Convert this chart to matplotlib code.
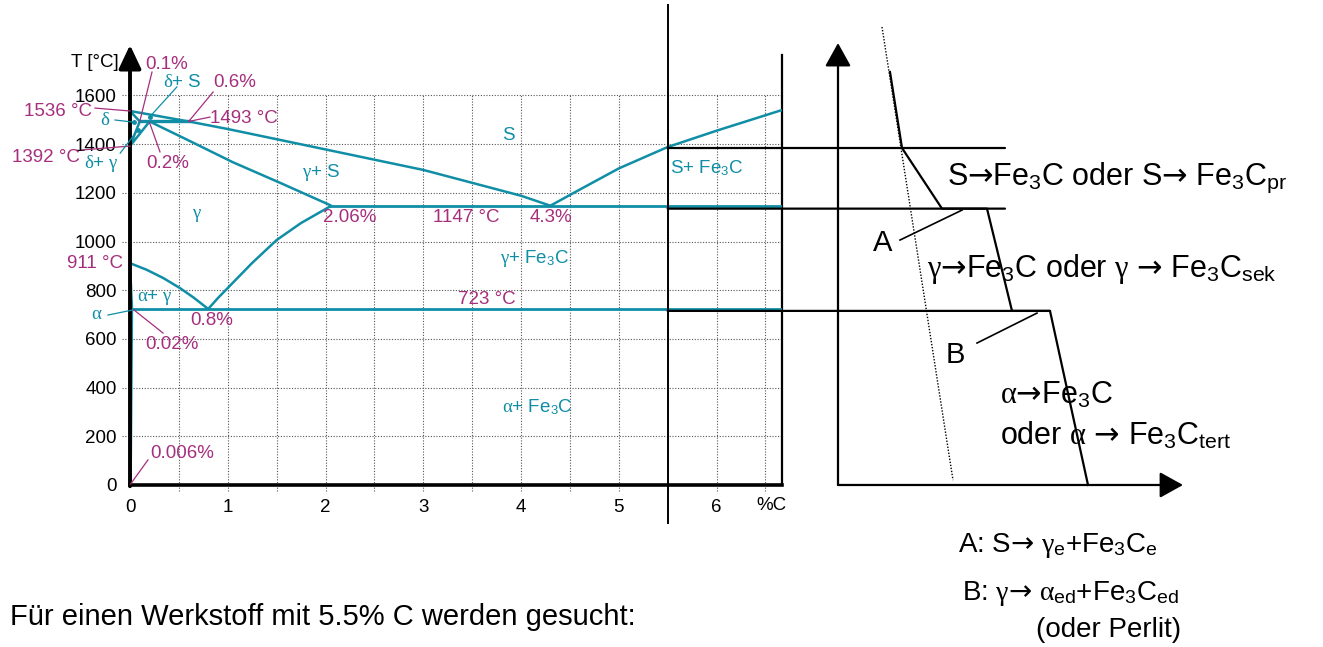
import matplotlib
matplotlib.use("Agg")
import matplotlib.pyplot as plt
from matplotlib.patches import ConnectionPatch

plt.rcParams["font.family"] = ["Liberation Sans", "DejaVu Sans"]
plt.rcParams["mathtext.fontset"] = "custom"
plt.rcParams["mathtext.rm"] = "Liberation Sans"
plt.rcParams["mathtext.it"] = "Liberation Serif"
plt.rcParams["mathtext.bf"] = "Liberation Sans:bold"
plt.rcParams["mathtext.sf"] = "DejaVu Sans"

TEAL = "#0f8ea6"
MAG = "#a62f7d"
ARR = r"$\mathsf{→}$"

# ---- Fe-Fe3C phase boundaries (%C, °C) ----
liq_left_c = [0.0, 0.6, 1.0, 1.74, 2.5, 3.0, 3.5, 4.0, 4.3]
liq_left_t = [1536, 1493, 1462, 1400, 1336, 1294, 1241, 1188, 1147]
liq_right_c = [4.3, 4.6, 5.0, 5.5, 6.0, 6.67]
liq_right_t = [1147, 1213, 1300, 1388, 1455, 1540]
sol_gamma_c = [0.2, 0.6, 1.05, 1.53, 2.06]
sol_gamma_t = [1493, 1415, 1326, 1242, 1147]
sol_delta_c = [0.0, 0.1]
sol_delta_t = [1536, 1493]
delta_gamma_c = [0.1, 0.0, 0.2]
delta_gamma_t = [1493, 1392, 1493]
peritectic_c = [0.1, 0.6]
peritectic_t = [1493, 1493]
a3_c = [0.0, 0.17, 0.34, 0.51, 0.65, 0.8]
a3_t = [911, 884, 850, 809, 770, 723]
acm_c = [0.8, 0.9, 1.0, 1.25, 1.5, 1.75, 2.06]
acm_t = [723, 768, 809, 912, 1006, 1076, 1147]
gp_c = [0.0, 0.02]
gp_t = [911, 723]
pq_c = [0.02, 0.006]
pq_t = [723, 0]
eutectic_c = [2.06, 6.67]
eutectic_t = [1147, 1147]
eutectoid_c = [0.02, 6.67]
eutectoid_t = [723, 723]

x_ticks = [0, 1, 2, 3, 4, 5, 6]
y_ticks = [0, 200, 400, 600, 800, 1000, 1200, 1400, 1600]
alloy_c = 5.5

# ---- cooling curve for the 5.5 % C alloy (time, °C) ----
cool_time = [5.2, 6.4, 10.4, 14.9, 17.4, 21.2, 25.0]
cool_temp = [1696, 1384, 1135, 1135, 715, 715, 0]
guide_temp = [1384, 1135, 715]
guide_end = [16.7, 16.7, 21.2]
ref_time = [4.4, 11.5]
ref_temp = [1881, 20]

fig = plt.figure(figsize=(13.23, 6.47), dpi=100)
ax = fig.add_axes([130 / 1323, 0.2504, 652 / 1323, 0.6646])
ax.set_xlim(0, 6.67)
ax.set_ylim(0, 1766)

for s in ("top", "left"):
    ax.spines[s].set_visible(False)
ax.spines["bottom"].set_linewidth(2.6)
ax.spines["right"].set_linewidth(1.6)
ax.spines["right"].set_bounds(0, 1766)

ax.set_xticks(x_ticks)
ax.set_yticks(y_ticks)
ax.tick_params(length=0, labelsize=13.5, pad=10)
ax.tick_params(axis="y", pad=9.5)

# dotted grid
grid_kw = dict(color="#555555", lw=0.8, ls=(0, (1, 1.5)), zorder=1)
for t in y_ticks[1:]:
    ax.plot([-0.08, 6.67], [t, t], clip_on=False, **grid_kw)
for k in range(1, 14):
    ax.plot([k * 0.5, k * 0.5], [-25, 1600], clip_on=False, **grid_kw)

# temperature axis with arrow
ax.annotate("", xy=(0, 1807), xytext=(0, -5), annotation_clip=False,
            arrowprops=dict(arrowstyle="-|>,head_length=0.72,head_width=0.34",
                            lw=2.8, color="k", shrinkA=0, shrinkB=0,
                            mutation_scale=20), zorder=6)
ax.text(-0.36, 1737, "T [°C]", fontsize=13.5, ha="center", va="center")
ax.text(6.56, -84, "%C", fontsize=13.5, ha="center", va="center")

# phase boundaries
lkw = dict(color=TEAL, lw=1.8, zorder=4, solid_capstyle="butt", solid_joinstyle="round")
ax.plot(liq_left_c, liq_left_t, **lkw)
ax.plot(liq_right_c, liq_right_t, **lkw)
ax.plot(sol_gamma_c, sol_gamma_t, **lkw)
ax.plot(sol_delta_c, sol_delta_t, **lkw)
ax.plot(delta_gamma_c, delta_gamma_t, **lkw)
ax.plot(peritectic_c, peritectic_t, color=TEAL, lw=2.4, zorder=4)
ax.plot(a3_c, a3_t, **lkw)
ax.plot(acm_c, acm_t, **lkw)
ax.plot(gp_c, gp_t, **lkw)
ax.plot(pq_c, pq_t, **lkw)
ax.plot(eutectic_c, eutectic_t, color=TEAL, lw=2.0, zorder=4)
ax.plot(eutectoid_c, eutectoid_t, color=TEAL, lw=2.0, zorder=4)

# small region markers in the delta corner
ax.plot([0.04, 0.2, 0.08], [1490, 1510, 1458], "o", color=TEAL, ms=2.5, zorder=5)

# alloy composition line
ax.axvline(alloy_c, ymin=-0.088, ymax=1.116, color="k", lw=1.4, clip_on=False, zorder=5)

# labels: (x, T, text, colour, ha)
labels = [
    (0.153, 1725, "0.1%", MAG, "left"),
    (0.338, 1651, r"$\delta$+ S", TEAL, "left"),
    (0.85, 1655, "0.6%", MAG, "left"),
    (-0.389, 1535, "1536 °C", MAG, "right"),
    (0.818, 1507, "1493 °C", MAG, "left"),
    (-0.25, 1496, r"$\delta$", TEAL, "center"),
    (-0.512, 1347, "1392 °C", MAG, "right"),
    (-0.47, 1320, r"$\delta$+ $\gamma$", TEAL, "left"),
    (0.164, 1322, "0.2%", MAG, "left"),
    (3.87, 1437, "S", TEAL, "center"),
    (1.76, 1285, r"$\gamma$+ S", TEAL, "left"),
    (0.685, 1105, r"$\gamma$", TEAL, "center"),
    (5.52, 1302, r"S+ Fe$_3$C", TEAL, "left"),
    (1.974, 1097, "2.06%", MAG, "left"),
    (3.10, 1097, "1147 °C", MAG, "left"),
    (4.09, 1097, "4.3%", MAG, "left"),
    (3.785, 932, r"$\gamma$+ Fe$_3$C", TEAL, "left"),
    (-0.072, 908, "911 °C", MAG, "right"),
    (0.072, 768, r"$\alpha$+ $\gamma$", TEAL, "left"),
    (3.355, 760, "723 °C", MAG, "left"),
    (-0.338, 702, r"$\alpha$", TEAL, "center"),
    (0.614, 674, "0.8%", MAG, "left"),
    (0.153, 575, "0.02%", MAG, "left"),
    (3.806, 320, r"$\alpha$+ Fe$_3$C", TEAL, "left"),
    (0.205, 131, "0.006%", MAG, "left"),
]
for x, t, s, c, ha in labels:
    ax.text(x, t, s, color=c, fontsize=13.5, ha=ha, va="center", zorder=7)

# leader lines: ((x0, T0), (x1, T1), colour)
leaders = [
    ((0.225, 1696), (0.1, 1493), MAG),
    ((0.48, 1635), (0.2, 1511), TEAL),
    ((0.85, 1614), (0.6, 1493), MAG),
    ((-0.358, 1548), (0.0, 1536), MAG),
    ((0.6, 1493), (0.818, 1511), MAG),
    ((-0.153, 1499), (0.04, 1490), TEAL),
    ((-0.49, 1376), (0.0, 1392), MAG),
    ((-0.10, 1363), (0.08, 1458), TEAL),
    ((0.307, 1368), (0.2, 1488), MAG),
    ((-0.225, 698), (0.03, 719), TEAL),
    ((0.338, 624), (0.04, 719), MAG),
    ((0.184, 103), (0.006, 4), MAG),
]
for (x0, t0), (x1, t1), c in leaders:
    ax.plot([x0, x1], [t0, t1], color=c, lw=0.9, clip_on=False, zorder=6)

# ---- cooling curve panel ----
ax2 = fig.add_axes([838 / 1323, 0.2504, 345 / 1323, 0.6646])
ax2.set_xlim(0, 34.5)
ax2.set_ylim(0, 1766)
ax2.axis("off")
akw = dict(arrowstyle="-|>,head_length=0.72,head_width=0.4", lw=1.6,
           color="k", shrinkA=0, shrinkB=0, mutation_scale=20)
ax2.annotate("", xy=(0, 1815), xytext=(0, 0), arrowprops=akw, annotation_clip=False)
ax2.annotate("", xy=(34.5, 0), xytext=(0, 0), arrowprops=akw, annotation_clip=False)

ax2.plot(cool_time, cool_temp, color="k", lw=1.6, clip_on=False)
ax2.plot(ref_time, ref_temp, color="k", lw=1.0, ls=(0, (1, 1.2)), clip_on=False)

for t, te in zip(guide_temp, guide_end):
    con = ConnectionPatch(xyA=(alloy_c, t), coordsA=ax.transData,
                          xyB=(te, t), coordsB=ax2.transData,
                          color="k", lw=1.6)
    fig.add_artist(con)

ax2.plot([6.2, 12.4], [1006, 1129], color="k", lw=1.2, clip_on=False)
ax2.plot([13.9, 19.9], [583, 706], color="k", lw=1.2, clip_on=False)
ax2.text(4.5, 994, "A", fontsize=21, ha="center", va="center")
ax2.text(11.7, 534, "B", fontsize=21, ha="center", va="center")

big = 22
ax2.text(10.9, 1262, "S" + ARR + r"Fe$_3$C oder S" + ARR + r" Fe$_3$C$_{\mathrm{pr}}$",
         fontsize=big, ha="left", va="center", clip_on=False)
ax2.text(8.9, 888, r"$\gamma$" + ARR + r"Fe$_3$C oder $\gamma$ " + ARR + r" Fe$_3$C$_{\mathrm{sek}}$",
         fontsize=big, ha="left", va="center", clip_on=False)
ax2.text(16.2, 368, r"$\alpha$" + ARR + r"Fe$_3$C", fontsize=big, ha="left", va="center")
ax2.text(16.2, 203, r"oder $\alpha$ " + ARR + r" Fe$_3$C$_{\mathrm{tert}}$",
         fontsize=big, ha="left", va="center", clip_on=False)

# ---- notes below the figure ----
W, H = 1323, 647
fig.text(10 / W, 1 - 617 / H, "Für einen Werkstoff mit 5.5% C werden gesucht:",
         fontsize=21, ha="left", va="center")
fig.text(958 / W, 1 - 545 / H,
         "A: S" + ARR + r" $\gamma_{\mathrm{e}}$+Fe$_3$C$_{\mathrm{e}}$",
         fontsize=20, ha="left", va="center")
fig.text(962 / W, 1 - 593 / H,
         r"B: $\gamma$" + ARR + r" $\alpha_{\mathrm{ed}}$+Fe$_3$C$_{\mathrm{ed}}$",
         fontsize=20, ha="left", va="center")
fig.text(1036 / W, 1 - 630 / H, "(oder Perlit)", fontsize=20, ha="left", va="center")

fig.savefig("out.png", dpi=100)
